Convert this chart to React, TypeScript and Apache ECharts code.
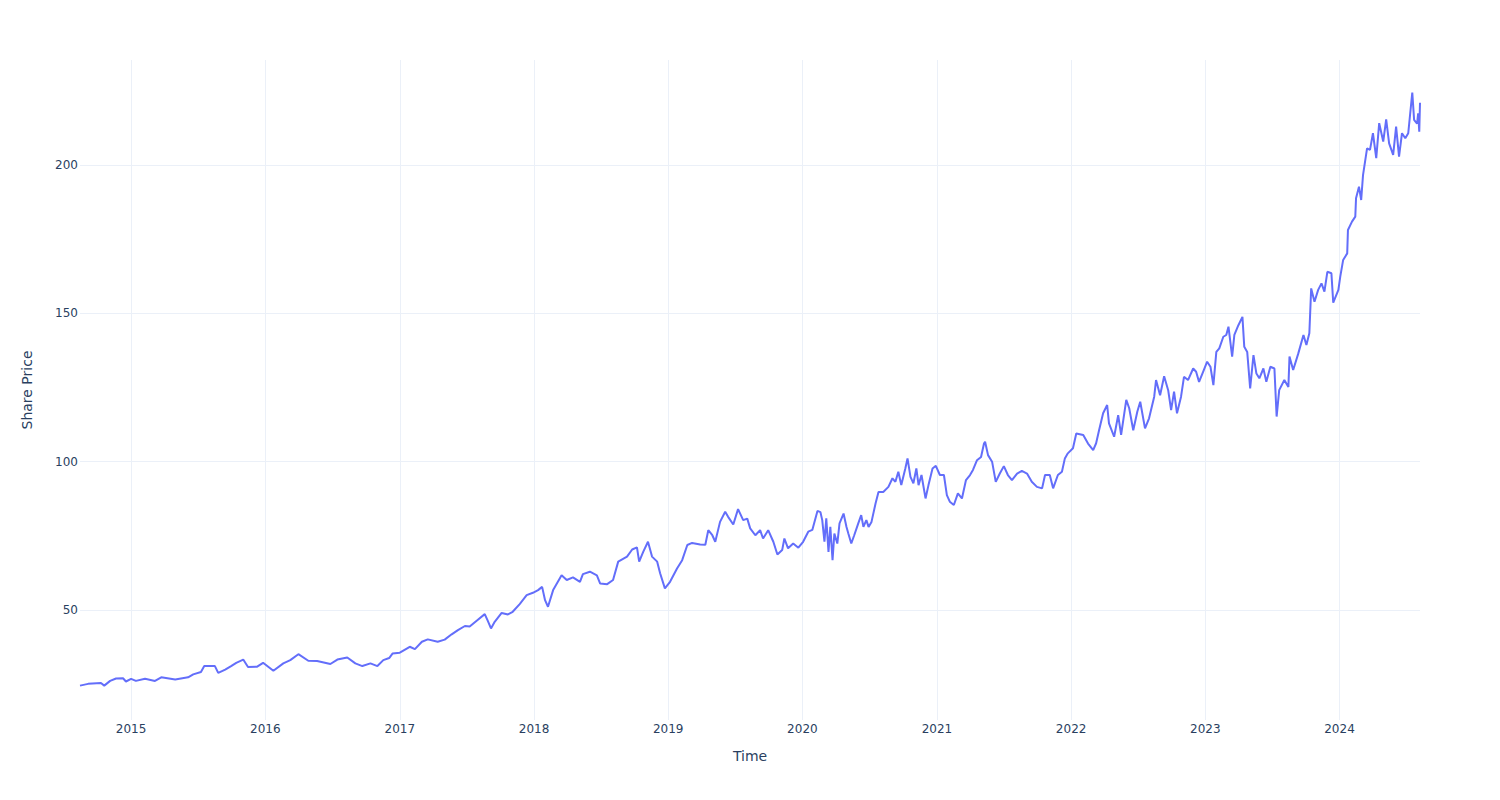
import React, { useEffect, useRef } from "react";
import * as echarts from "echarts";

const dates: string[] = [
  "2014-08-15", "2014-09-06", "2014-10-11", "2014-10-20", "2014-11-05", "2014-11-21", "2014-12-10", "2014-12-18",
  "2015-01-01", "2015-01-14", "2015-02-08", "2015-03-07", "2015-03-24", "2015-05-01", "2015-06-05", "2015-06-19",
  "2015-07-10", "2015-07-19", "2015-08-17", "2015-08-26", "2015-09-14", "2015-09-30", "2015-10-14", "2015-11-02",
  "2015-11-15", "2015-12-10", "2015-12-26",
  "2016-01-23", "2016-02-19", "2016-03-09", "2016-03-31", "2016-04-27", "2016-05-21", "2016-06-26", "2016-07-15",
  "2016-08-11", "2016-09-02", "2016-09-21", "2016-10-13", "2016-11-01", "2016-11-17", "2016-12-03", "2016-12-12",
  "2017-01-01", "2017-01-28", "2017-02-11", "2017-03-02", "2017-03-18", "2017-04-14", "2017-05-03", "2017-05-22",
  "2017-06-08", "2017-06-27", "2017-07-10", "2017-07-29", "2017-08-20", "2017-08-28", "2017-09-06", "2017-09-16",
  "2017-10-05", "2017-10-22", "2017-11-04", "2017-11-23", "2017-12-12", "2017-12-29",
  "2018-01-12", "2018-01-23", "2018-01-31", "2018-02-08", "2018-02-22", "2018-03-17", "2018-03-31", "2018-04-17",
  "2018-05-06", "2018-05-14", "2018-06-02", "2018-06-21", "2018-06-30", "2018-07-19", "2018-08-04", "2018-08-18",
  "2018-09-11", "2018-09-25", "2018-10-08", "2018-10-14", "2018-10-25", "2018-11-07", "2018-11-18", "2018-12-02",
  "2018-12-10", "2018-12-23",
  "2019-01-06", "2019-01-25", "2019-02-08", "2019-02-22", "2019-03-07", "2019-03-29", "2019-04-12", "2019-04-20",
  "2019-05-01", "2019-05-09", "2019-05-22", "2019-06-05", "2019-06-13", "2019-06-27", "2019-07-10", "2019-07-24",
  "2019-08-04", "2019-08-12", "2019-08-26", "2019-09-08", "2019-09-16", "2019-09-30", "2019-10-14", "2019-10-25",
  "2019-11-07", "2019-11-13", "2019-11-23", "2019-12-07", "2019-12-21",
  "2020-01-03", "2020-01-17", "2020-01-28", "2020-02-11", "2020-02-19", "2020-02-24", "2020-03-01", "2020-03-06",
  "2020-03-12", "2020-03-17", "2020-03-23", "2020-03-28", "2020-04-05", "2020-04-11", "2020-04-22", "2020-04-30",
  "2020-05-05", "2020-05-13", "2020-05-21", "2020-06-01", "2020-06-09", "2020-06-15", "2020-06-23", "2020-06-29",
  "2020-07-07", "2020-07-18", "2020-07-26", "2020-08-08",
  "2020-08-22", "2020-09-02", "2020-09-10", "2020-09-18", "2020-09-26", "2020-10-07", "2020-10-13", "2020-10-21",
  "2020-10-29", "2020-11-06", "2020-11-12", "2020-11-20", "2020-12-01", "2020-12-09", "2020-12-20", "2020-12-29",
  "2021-01-09", "2021-01-20", "2021-01-28", "2021-02-05", "2021-02-16", "2021-02-27", "2021-03-10", "2021-03-21",
  "2021-04-01", "2021-04-09", "2021-04-20", "2021-05-01", "2021-05-09", "2021-05-12", "2021-05-20", "2021-05-31",
  "2021-06-10", "2021-06-21", "2021-07-02", "2021-07-13", "2021-07-24", "2021-08-07", "2021-08-20", "2021-09-03",
  "2021-09-16", "2021-09-30", "2021-10-14", "2021-10-22", "2021-11-04", "2021-11-13", "2021-11-26", "2021-12-07",
  "2021-12-15", "2021-12-23",
  "2022-01-06", "2022-01-15", "2022-02-03", "2022-02-16", "2022-03-02", "2022-03-10", "2022-03-18", "2022-03-29",
  "2022-04-09", "2022-04-14", "2022-04-28", "2022-05-09", "2022-05-17", "2022-05-31", "2022-06-08", "2022-06-19",
  "2022-06-30", "2022-07-08", "2022-07-21", "2022-08-01", "2022-08-15", "2022-08-20", "2022-08-31", "2022-09-11",
  "2022-09-22", "2022-09-30", "2022-10-08", "2022-10-16", "2022-10-27", "2022-11-04", "2022-11-15", "2022-11-29",
  "2022-12-07", "2022-12-15", "2022-12-26",
  "2023-01-06", "2023-01-15", "2023-01-23", "2023-01-31", "2023-02-08", "2023-02-19", "2023-02-27", "2023-03-05",
  "2023-03-15", "2023-03-21", "2023-04-01", "2023-04-12", "2023-04-17", "2023-04-25", "2023-05-03", "2023-05-12",
  "2023-05-20", "2023-05-28", "2023-06-08", "2023-06-16", "2023-06-27", "2023-07-08", "2023-07-14", "2023-07-21",
  "2023-08-04", "2023-08-15", "2023-08-18", "2023-08-28", "2023-09-11", "2023-09-25", "2023-10-03", "2023-10-11",
  "2023-10-16", "2023-10-25", "2023-11-04", "2023-11-13", "2023-11-21", "2023-11-29", "2023-12-10", "2023-12-15",
  "2023-12-29",
  "2024-01-03", "2024-01-11", "2024-01-22", "2024-01-24", "2024-02-04", "2024-02-13", "2024-02-15", "2024-02-23",
  "2024-02-29", "2024-03-05", "2024-03-16", "2024-03-24", "2024-04-01", "2024-04-10", "2024-04-18", "2024-04-29",
  "2024-05-07", "2024-05-15", "2024-05-26", "2024-06-03", "2024-06-11", "2024-06-19", "2024-06-28", "2024-07-06",
  "2024-07-17", "2024-07-22", "2024-07-30", "2024-08-02", "2024-08-05", "2024-08-07",
];

const prices: number[] = [
  24.5, 25.1, 25.4, 24.5, 26.1, 26.9, 27.0, 25.9,
  26.8, 26.1, 26.8, 26.1, 27.3, 26.6, 27.3, 28.3,
  29.1, 31.1, 31.1, 28.8, 29.9, 31.1, 32.2, 33.3,
  30.8, 30.9, 32.2,
  29.5, 32.0, 33.1, 35.1, 32.9, 32.8, 31.8, 33.3,
  34.0, 32.0, 31.1, 32.0, 31.1, 33.1, 33.8, 35.3,
  35.6, 37.6, 36.8, 39.3, 40.1, 39.3, 40.0, 41.8,
  43.2, 44.6, 44.4, 46.4, 48.6, 46.4, 43.8, 46.0,
  49.0, 48.5, 49.4, 52.0, 55.0, 55.8,
  56.7, 57.8, 53.3, 51.1, 56.7, 61.7, 60.1, 61.0,
  59.5, 62.1, 62.9, 61.7, 58.9, 58.7, 60.1, 66.3,
  68.0, 70.4, 71.1, 66.3, 69.6, 73.0, 68.0, 66.3,
  62.4, 57.3,
  59.5, 64.0, 66.8, 71.9, 72.6, 72.1, 72.0, 76.9,
  75.2, 73.0, 79.7, 83.1, 81.4, 78.8, 84.0, 80.3,
  80.8, 77.5, 75.2, 76.9, 74.1, 76.9, 73.0, 68.7,
  70.2, 74.1, 70.8, 72.4, 71.0,
  73.0, 76.4, 77.0, 83.4, 83.0, 80.3, 73.0, 80.9,
  69.6, 78.0, 66.8, 75.8, 72.4, 79.2, 82.5, 78.0,
  75.8, 72.4, 75.2, 79.2, 82.0, 78.0, 80.3, 78.0,
  79.7, 85.9, 89.8, 89.8,
  91.5, 94.4, 93.2, 96.6, 92.1, 97.7, 101.1, 94.9,
  92.7, 97.7, 92.1, 95.5, 87.6, 92.1, 97.7, 98.6,
  95.5, 95.5, 88.7, 86.5, 85.4, 89.3, 87.6, 93.8,
  95.5, 97.2, 100.5, 101.6, 106.1, 106.7, 102.2, 100.0,
  93.2, 96.0, 98.5, 95.5, 93.8, 96.0, 96.9, 96.0,
  93.2, 91.5, 91.0, 95.5, 95.5, 91.0, 95.5, 96.6,
  101.1, 102.8,
  104.5, 109.5, 109.0, 106.1, 103.9, 106.2, 110.6, 116.3,
  119.1, 112.9, 108.4, 115.7, 109.0, 120.8, 118.0, 110.6,
  116.8, 120.2, 111.2, 114.6, 121.9, 127.5, 122.4, 128.8,
  124.1, 117.4, 123.6, 116.3, 121.9, 128.6, 127.5, 131.4,
  130.3, 126.9, 130.3,
  133.7, 132.0, 125.8, 137.0, 138.2, 142.1, 142.7, 145.5,
  135.4, 142.7, 146.0, 148.8, 138.7, 137.0, 124.7, 135.9,
  129.7, 128.1, 131.4, 126.9, 132.0, 131.4, 115.2, 124.1,
  127.5, 125.2, 135.4, 130.9, 136.5, 142.7, 139.3, 143.3,
  158.4, 153.9, 157.9, 160.1, 157.3, 164.0, 163.5, 153.6,
  157.9,
  162.3, 168.0, 170.2, 178.1, 180.9, 182.6, 188.8, 192.7,
  188.2, 196.6, 205.6, 205.1, 210.7, 202.3, 214.1, 207.9,
  215.4, 207.3, 203.4, 212.9, 202.8, 210.7, 209.0, 210.7,
  224.4, 215.2, 213.9, 217.4, 211.2, 221.0,
];

const xTitle = "Time";
const yTitle = "Share Price";

export default function App() {
  const ref = useRef<HTMLDivElement>(null);

  useEffect(() => {
    if (!ref.current) return;
    const chart = echarts.init(ref.current, null, { renderer: "svg" });
    const data = dates.map((d, i) => {
      const [y, m, dd] = d.split("-").map(Number);
      return [Date.UTC(y, m - 1, dd), prices[i]];
    });
    const font = "DejaVu Sans";
    const textColor = "#2a3f5f";
    const gridColor = "#EBF0F8";
    const YEAR = 365 * 24 * 3600 * 1000;

    chart.setOption({
      animation: false,
      useUTC: true,
      backgroundColor: "#ffffff",
      textStyle: { fontFamily: font },
      grid: { left: 80, right: 80, top: 60, bottom: 80, outerBoundsMode: "none" },
      xAxis: {
        type: "time",
        min: "dataMin",
        max: "dataMax",
        splitNumber: 10,
        minInterval: YEAR,
        maxInterval: YEAR,
        name: xTitle,
        nameLocation: "middle",
        nameGap: 29,
        nameTextStyle: { fontFamily: font, fontSize: 14, color: textColor },
        axisLine: { show: false },
        axisTick: { show: false },
        axisLabel: {
          fontFamily: font,
          fontSize: 12,
          color: textColor,
          margin: 3,
          showMinLabel: false,
          showMaxLabel: false,
          formatter: (v: number) => String(new Date(v).getUTCFullYear()),
        },
        splitLine: {
          show: true,
          showMinLine: false,
          showMaxLine: false,
          lineStyle: { color: gridColor, width: 1 },
        },
      },
      yAxis: {
        type: "value",
        min: 12.92,
        max: 235.39,
        name: yTitle,
        nameLocation: "middle",
        nameGap: 46,
        nameRotate: 90,
        nameTextStyle: { fontFamily: font, fontSize: 14, color: textColor },
        axisLine: { show: false },
        axisTick: { show: false },
        axisLabel: {
          fontFamily: font,
          fontSize: 12,
          color: textColor,
          margin: 2,
          showMinLabel: false,
          showMaxLabel: false,
        },
        splitLine: {
          show: true,
          showMinLine: false,
          showMaxLine: false,
          lineStyle: { color: gridColor, width: 1 },
        },
      },
      series: [
        {
          type: "line",
          data,
          showSymbol: false,
          symbol: "none",
          lineStyle: { color: "#636efa", width: 2 },
          itemStyle: { color: "#636efa" },
          emphasis: { disabled: true },
        },
      ],
    });
    return () => chart.dispose();
  }, []);

  return (
    <div
      ref={ref}
      style={{ position: "fixed", left: 0, top: 0, width: 1500, height: 800, background: "#ffffff" }}
    />
  );
}
